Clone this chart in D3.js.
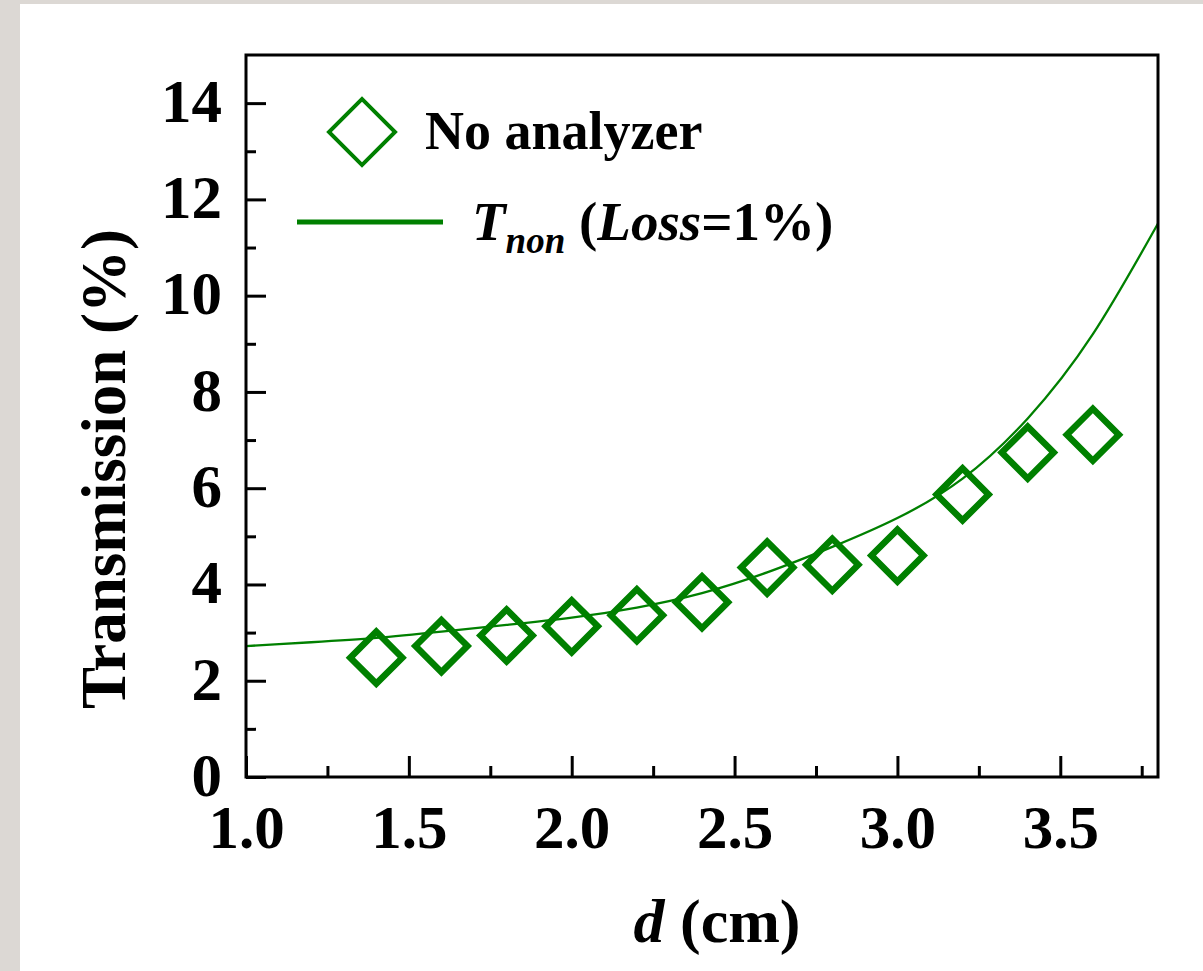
<!DOCTYPE html>
<meta charset="utf-8">
<style>
body { margin: 0; background: #dcd8d4; }
svg { display: block; }
text { font-family: "Liberation Serif", "Times New Roman", serif; font-weight: bold; fill: #000; }
.axis path { display: none; }
.axis line { stroke: #000; stroke-width: 3px; }
.axis text { font-size: 61px; }
</style>
<svg width="1203" height="971"></svg>
<script src="https://d3js.org/d3.v7.min.js"></script>
<script>

// measured points: No analyzer
var dVals = [1.4, 1.6, 1.8, 2.0, 2.2, 2.4, 2.6, 2.8, 3.0, 3.2, 3.4, 3.6];
var tVals = [2.48, 2.72, 2.94, 3.13, 3.36, 3.63, 4.35, 4.41, 4.6, 5.87, 6.74, 7.11];

// T_non (Loss=1%) curve
var curveD = [1.0, 1.2, 1.4, 1.6, 1.8, 2.0, 2.2, 2.4, 2.6, 2.8, 3.0, 3.2, 3.4, 3.6, 3.8];
var curveT = [2.72, 2.8, 2.89, 3.02, 3.16, 3.31, 3.52, 3.82, 4.25, 4.78, 5.38, 6.2, 7.45, 9.2, 11.5];

var xTicks = [1.0, 1.5, 2.0, 2.5, 3.0, 3.5];
var xMinor = [1.25, 1.75, 2.25, 2.75, 3.25, 3.75];
var yTicks = [0, 2, 4, 6, 8, 10, 12, 14];
var yMinor = [1, 3, 5, 7, 9, 11, 13];

var green = "#008000";

var svg = d3.select("svg");

// white sheet, gray strip left and top
svg.append("rect")
    .attr("x", 20).attr("y", 4)
    .attr("width", 1183).attr("height", 967)
    .attr("fill", "#fff");

var pLeft = 246, pRight = 1158, pTop = 55, pBottom = 777;

var x = d3.scaleLinear().domain([1.0, 3.8]).range([pLeft, pRight]);
var y = d3.scaleLinear().domain([0, 15]).range([pBottom, pTop]);

svg.append("clipPath").attr("id", "clip")
  .append("rect")
    .attr("x", pLeft).attr("y", pTop)
    .attr("width", pRight - pLeft).attr("height", pBottom - pTop);

// curve
var line = d3.line()
    .x(function(d, i) { return x(curveD[i]); })
    .y(function(d) { return y(d); })
    .curve(d3.curveNatural);

svg.append("path")
    .datum(curveT)
    .attr("clip-path", "url(#clip)")
    .attr("fill", "none")
    .attr("stroke", green)
    .attr("stroke-width", 2.3)
    .attr("d", line);

// markers
var diamond = d3.symbol().type(d3.symbolSquare).size(1352);

svg.append("g")
  .selectAll("path")
  .data(tVals)
  .enter().append("path")
    .attr("d", diamond)
    .attr("transform", function(d, i) {
      return "translate(" + x(dVals[i]) + "," + y(d) + ") rotate(45)";
    })
    .attr("fill", "none")
    .attr("stroke", green)
    .attr("stroke-width", 6.5);

// axes, ticks pointing inward
var xAxis = svg.append("g")
    .attr("class", "axis")
    .attr("transform", "translate(0," + pBottom + ")")
    .call(d3.axisBottom(x).tickValues(xTicks).tickSize(-21).tickPadding(28)
      .tickFormat(d3.format(".1f")));
xAxis.selectAll("text").attr("dy", "0.71em");

svg.append("g")
    .attr("class", "axis")
    .attr("transform", "translate(0," + pBottom + ")")
    .call(d3.axisBottom(x).tickValues(xMinor).tickSize(-11).tickFormat(""));

var yAxis = svg.append("g")
    .attr("class", "axis")
    .attr("transform", "translate(" + pLeft + ",0)")
    .call(d3.axisLeft(y).tickValues(yTicks).tickSize(-20).tickPadding(24)
      .tickFormat(d3.format("d")));
yAxis.selectAll("text").attr("dy", "0.3em");

svg.append("g")
    .attr("class", "axis")
    .attr("transform", "translate(" + pLeft + ",0)")
    .call(d3.axisLeft(y).tickValues(yMinor).tickSize(-10).tickFormat(""));

// frame
svg.append("rect")
    .attr("x", pLeft).attr("y", pTop)
    .attr("width", pRight - pLeft).attr("height", pBottom - pTop)
    .attr("fill", "none")
    .attr("stroke", "#000")
    .attr("stroke-width", 3);

// axis titles
svg.append("text")
    .attr("transform", "translate(125,469) rotate(-90)")
    .attr("text-anchor", "middle")
    .style("font-size", "63px")
    .text("Transmission (%)");

var xt = svg.append("text")
    .attr("x", 717).attr("y", 942)
    .attr("text-anchor", "middle")
    .style("font-size", "62px");
xt.append("tspan").style("font-style", "italic").text("d");
xt.append("tspan").text(" (cm)");

// legend
svg.append("path")
    .attr("d", d3.symbol().type(d3.symbolSquare).size(2178))
    .attr("transform", "translate(362,132) rotate(45)")
    .attr("fill", "none")
    .attr("stroke", green)
    .attr("stroke-width", 4);

svg.append("text")
    .attr("x", 425).attr("y", 149)
    .style("font-size", "54px")
    .text("No analyzer");

svg.append("line")
    .attr("x1", 297).attr("x2", 443)
    .attr("y1", 222).attr("y2", 222)
    .attr("stroke", green)
    .attr("stroke-width", 5);

var lt = svg.append("text")
    .attr("x", 472).attr("y", 240)
    .style("font-size", "55px");
lt.append("tspan").style("font-style", "italic").text("T");
lt.append("tspan").style("font-style", "italic").style("font-size", "37px")
    .attr("dy", 13).text("non");
lt.append("tspan").attr("dy", -13).text(" (");
lt.append("tspan").style("font-style", "italic").text("Loss");
lt.append("tspan").text("=1%)");

</script>
